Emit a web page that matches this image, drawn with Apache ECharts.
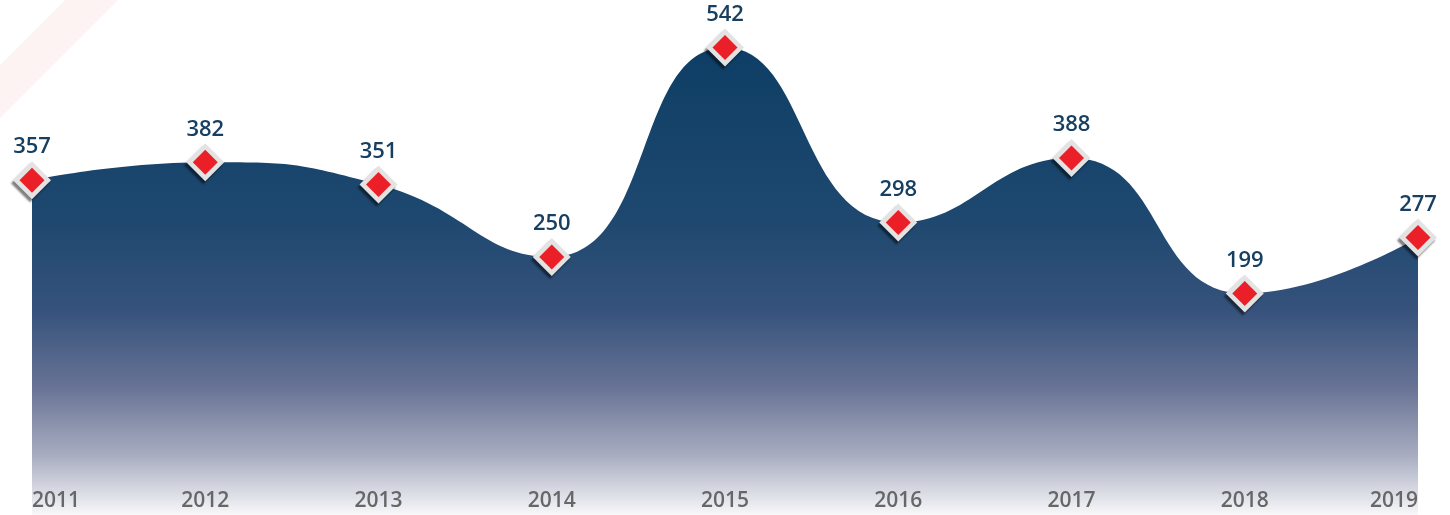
<!DOCTYPE html>
<html>
<head>
<meta charset="utf-8">
<script src="https://cdn.jsdelivr.net/npm/echarts@6/dist/echarts.min.js"></script>
<style>
  html, body { margin: 0; padding: 0; background: #fff; }
  #chart { width: 1450px; height: 515px; }
</style>
</head>
<body>
<div id="chart"></div>
<script>
  // years on the x axis and the value shown above each marker
  var years = ['2011', '2012', '2013', '2014', '2015', '2016', '2017', '2018', '2019']
  var values = [357, 382, 351, 250, 542, 298, 388, 199, 277]

  var chart = echarts.init(document.getElementById('chart'))

  var option = {
    animation: false,
    grid: {
      left: 32,
      right: 32,
      top: 6,
      bottom: 0
    },
    graphic: [
      {
        type: 'polygon',
        silent: true,
        z: -1,
        shape: { points: [[0, 65], [65, 0], [118, 0], [0, 118]] },
        style: { fill: '#fdf3f3' }
      }
    ],
    xAxis: {
      type: 'category',
      boundaryGap: false,
      data: years,
      axisLine: { show: false },
      axisTick: { show: false },
      splitLine: { show: false },
      axisLabel: {
        inside: true,
        margin: 3,
        alignMinLabel: 'left',
        alignMaxLabel: 'right',
        color: '#676767',
        fontFamily: 'Open Sans',
        fontWeight: 600,
        fontSize: 21
      },
      z: 5
    },
    yAxis: {
      type: 'value',
      min: -110,
      max: 600,
      show: false,
      splitLine: { show: false }
    },
    series: [
      {
        // the filled curve
        type: 'line',
        data: values,
        smooth: 0.5,
        showSymbol: false,
        lineStyle: { width: 0 },
        areaStyle: {
          origin: 'start',
          opacity: 1,
          color: new echarts.graphic.LinearGradient(0, 60, 0, 515, [
            { offset: 0, color: '#0f3f66' },
            { offset: 0.35, color: '#1e486f' },
            { offset: 0.55, color: '#36527c' },
            { offset: 0.72, color: '#687395' },
            { offset: 0.87, color: '#a8adc1' },
            { offset: 1, color: '#f8f8fa' }
          ], true)
        }
      },
      {
        // grey diamond behind each point, with its shadow and the value label
        type: 'scatter',
        data: values,
        symbol: 'diamond',
        symbolSize: 38,
        itemStyle: {
          color: '#e3e3e3',
          opacity: 1,
          shadowColor: 'rgba(0,0,0,0.5)',
          shadowBlur: 2,
          shadowOffsetX: -2,
          shadowOffsetY: 3
        },
        label: {
          show: true,
          position: 'top',
          distance: 3,
          color: '#173f62',
          fontFamily: 'Open Sans',
          fontWeight: 600,
          fontSize: 22
        },
        z: 3
      },
      {
        // red diamond on top
        type: 'scatter',
        data: values,
        symbol: 'diamond',
        symbolSize: 25,
        itemStyle: { color: '#ea1f27', opacity: 1 },
        z: 4
      }
    ]
  }

  chart.setOption(option)
  window.addEventListener('resize', function () {
    chart.resize()
  })
</script>
</body>
</html>
